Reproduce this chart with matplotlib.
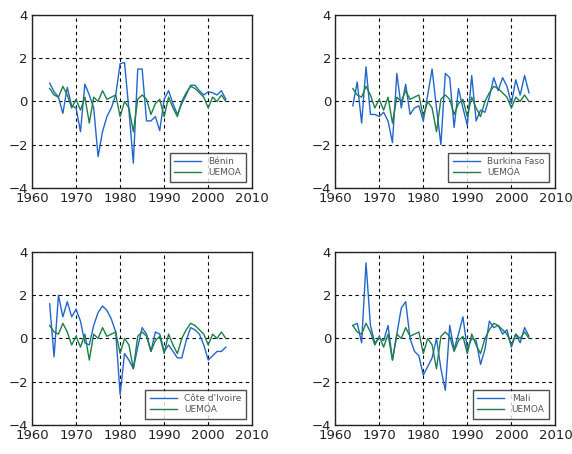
import numpy as np
import matplotlib
matplotlib.use("Agg")
import matplotlib.pyplot as plt

YEARS = np.arange(1964, 2005)

UEMOA = [0.6, 0.3, 0.2, 0.7, 0.3, -0.3, 0.1, -0.4, 0.2, -1.0,
         0.2, 0.0, 0.5, 0.1, 0.2, 0.3, -0.7, 0.0, -0.3, -1.4,
         0.1, 0.3, 0.1, -0.6, -0.1, 0.1, -0.7, 0.2, -0.3, -0.7,
         0.0, 0.4, 0.7, 0.6, 0.4, 0.2, -0.3, 0.2, 0.0, 0.3, 0.0]

BENIN = [0.85, 0.45, 0.2, -0.55, 0.65, -0.2, -0.3, -1.4, 0.8, 0.3,
         -0.3, -2.55, -1.4, -0.7, -0.3, 0.3, 1.75, 1.8, -0.4, -2.85,
         1.5, 1.5, -0.9, -0.9, -0.7, -1.35, 0.1, 0.5, -0.1, -0.6,
         -0.1, 0.3, 0.75, 0.75, 0.5, 0.3, 0.45, 0.4, 0.3, 0.5, 0.1]

BURKINA = [-0.2, 0.9, -1.0, 1.6, -0.6, -0.6, -0.7, -0.5, -0.9, -1.9,
           1.3, -0.3, 0.8, -0.6, -0.3, -0.2, -0.9, 0.3, 1.5, -0.3,
           -2.0, 1.3, 1.1, -1.2, 0.6, -0.3, -1.1, 1.2, -0.9, -0.4,
           -0.5, 0.2, 1.1, 0.5, 1.1, 0.7, -0.1, 1.0, 0.3, 1.2, 0.4]

COTE_IVOIRE = [1.6, -0.85, 2.0, 1.0, 1.7, 1.0, 1.35, 0.8, -0.2, -0.3,
               0.6, 1.2, 1.5, 1.3, 0.9, 0.3, -2.6, -0.7, -1.0, -1.4,
               -0.4, 0.5, 0.2, -0.6, 0.3, 0.2, -0.6, -0.3, -0.6, -0.9,
               -0.9, -0.1, 0.5, 0.4, 0.2, -0.3, -1.0, -0.8, -0.6, -0.6, -0.4]

MALI = [0.6, 0.7, -0.2, 3.5, 0.6, -0.2, 0.0, -0.1, 0.6, -1.0,
        0.2, 1.4, 1.7, 0.0, -0.6, -0.8, -1.7, -1.3, -0.9, 0.0,
        -1.4, -2.4, 0.6, -0.5, 0.2, 1.0, -0.5, 0.0, -0.1, -1.2,
        -0.5, 0.8, 0.5, 0.6, 0.2, 0.4, -0.4, 0.2, -0.2, 0.5, 0.1]

PANELS = [
    ("Bénin", BENIN),
    ("Burkina Faso", BURKINA),
    ("Côte d'Ivoire", COTE_IVOIRE),
    ("Mali", MALI),
]

BLUE = "#2266cc"
GREEN = "#1f7f45"

fig = plt.figure(figsize=(5.72, 4.54), dpi=100)
positions = [
    [0.056, 0.586, 0.385, 0.381],
    [0.586, 0.586, 0.385, 0.381],
    [0.056, 0.064, 0.385, 0.381],
    [0.586, 0.064, 0.385, 0.381],
]

for pos, (name, values) in zip(positions, PANELS):
    ax = fig.add_axes(pos)
    ax.plot(YEARS, values, color=BLUE, linewidth=1.0, label=name)
    ax.plot(YEARS, UEMOA, color=GREEN, linewidth=1.0, label="UEMOA")
    ax.set_xlim(1960, 2010)
    ax.set_ylim(-4, 4)
    ax.set_xticks(np.arange(1960, 2011, 10))
    ax.set_yticks([-4, -2, 0, 2, 4])
    ax.grid(True, color="black", linestyle=(0, (3, 3)), linewidth=0.8)
    ax.tick_params(length=0, labelsize=9.5, colors="#222222")
    ax.tick_params(axis="x", pad=3)
    ax.tick_params(axis="y", pad=3)
    for spine in ax.spines.values():
        spine.set_color("#222222")
        spine.set_linewidth(1.0)
    leg = ax.legend(loc="lower right", fontsize=6.5, frameon=True, fancybox=False,
                    borderaxespad=0.7, handlelength=3.0, labelspacing=0.2,
                    borderpad=0.5)
    leg.get_frame().set_edgecolor("#222222")
    leg.get_frame().set_linewidth(1.0)
    for text in leg.get_texts():
        text.set_color("#555555")

fig.savefig("out.png", dpi=100)
